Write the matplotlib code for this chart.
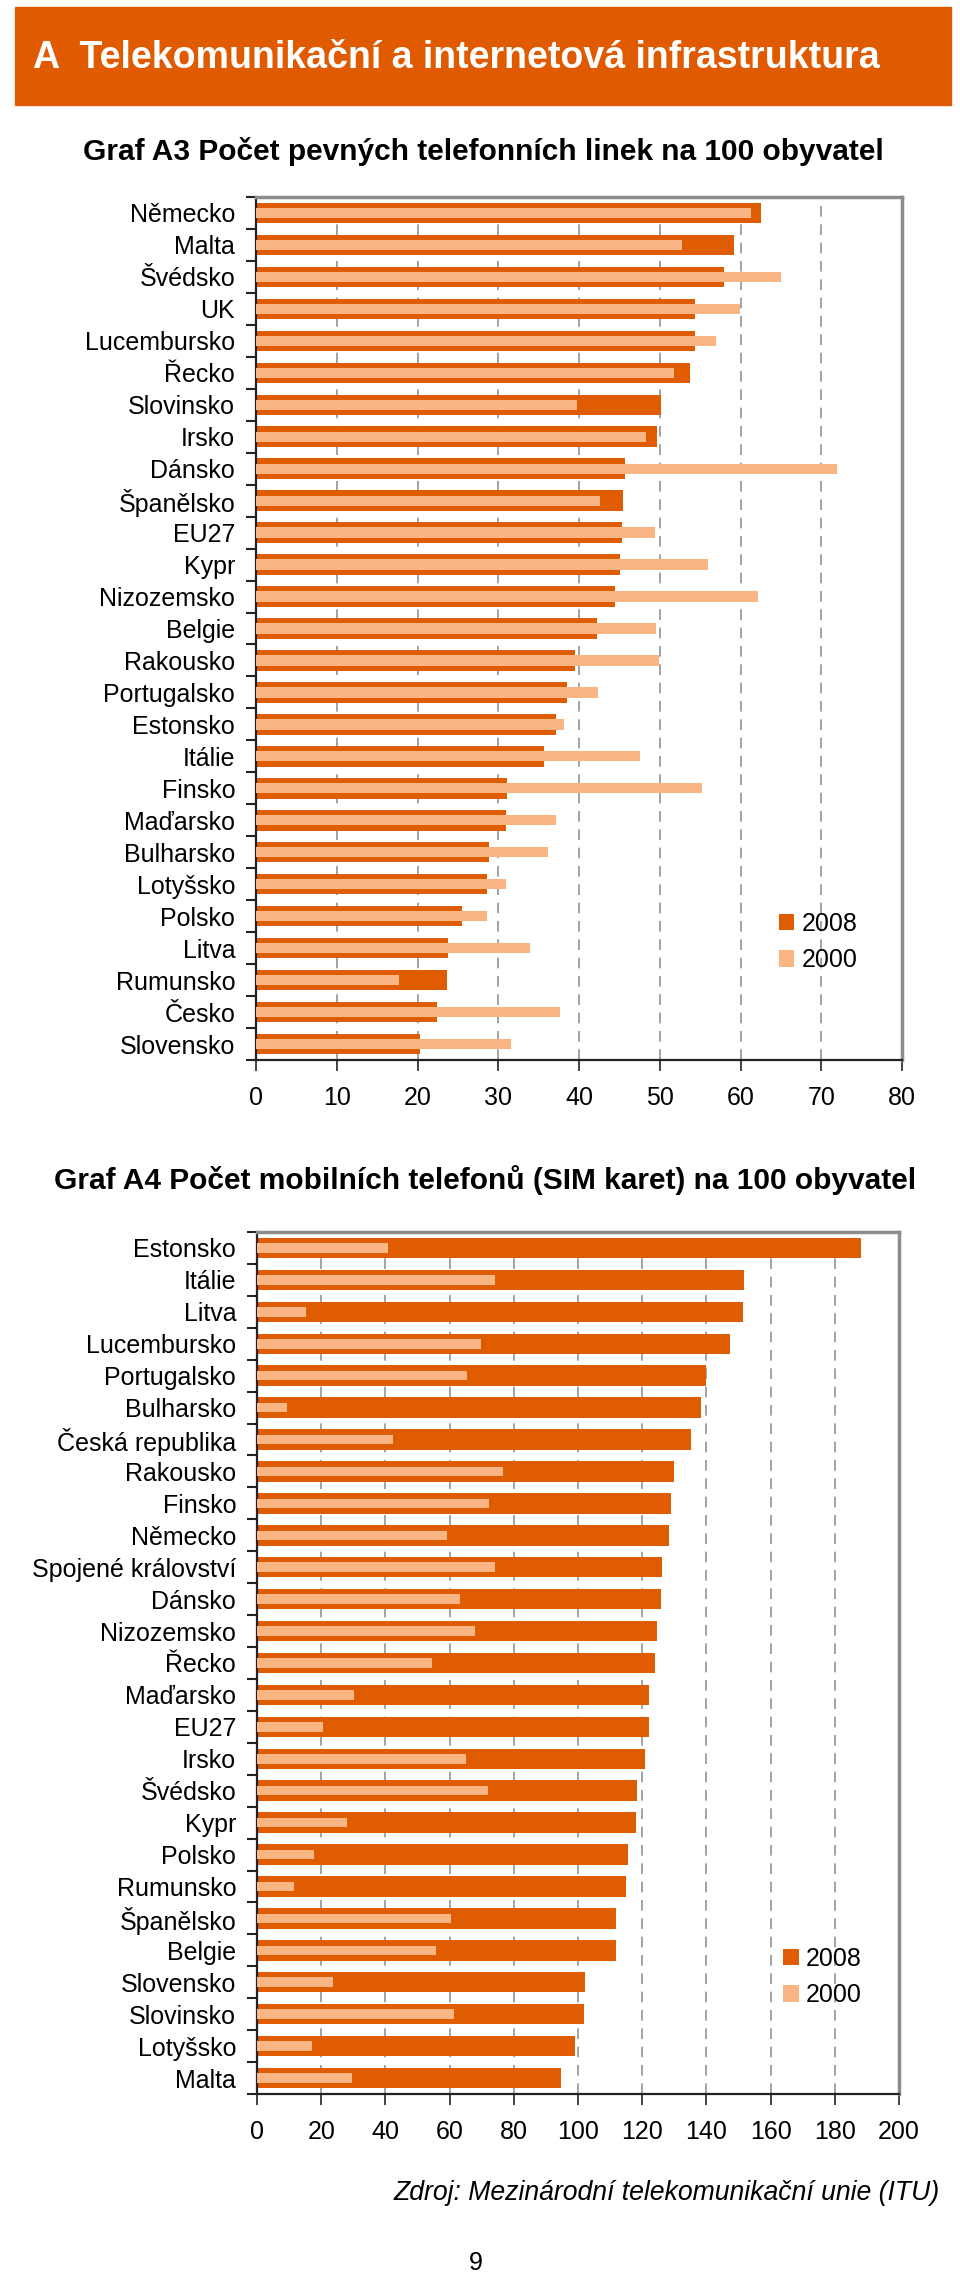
import matplotlib
matplotlib.use("Agg")
import matplotlib.pyplot as plt
from matplotlib.patches import Rectangle, Patch
import numpy as np

plt.rcParams['font.family'] = ['Liberation Sans', 'DejaVu Sans']

# ---------------- data ----------------
cats_fixed = ["Německo", "Malta", "Švédsko", "UK", "Lucembursko", "Řecko", "Slovinsko",
              "Irsko", "Dánsko", "Španělsko", "EU27", "Kypr", "Nizozemsko", "Belgie",
              "Rakousko", "Portugalsko", "Estonsko", "Itálie", "Finsko", "Maďarsko",
              "Bulharsko", "Lotyšsko", "Polsko", "Litva", "Rumunsko", "Česko", "Slovensko"]
fixed_2008 = [62.6, 59.2, 57.9, 54.4, 54.4, 53.7, 50.2, 49.7, 45.7, 45.5, 45.3, 45.1, 44.4,
              42.2, 39.5, 38.5, 37.2, 35.7, 31.1, 31.0, 28.9, 28.6, 25.5, 23.8, 23.6, 22.4, 20.3]
fixed_2000 = [61.3, 52.7, 65.0, 59.9, 57.0, 51.8, 39.7, 48.3, 71.9, 42.6, 49.4, 56.0, 62.2,
              49.5, 49.9, 42.3, 38.2, 47.6, 55.2, 37.2, 36.1, 31.0, 28.6, 33.9, 17.7, 37.7, 31.6]

cats_mobile = ["Estonsko", "Itálie", "Litva", "Lucembursko", "Portugalsko", "Bulharsko",
               "Česká republika", "Rakousko", "Finsko", "Německo", "Spojené království",
               "Dánsko", "Nizozemsko", "Řecko", "Maďarsko", "EU27", "Irsko", "Švédsko",
               "Kypr", "Polsko", "Rumunsko", "Španělsko", "Belgie", "Slovensko",
               "Slovinsko", "Lotyšsko", "Malta"]
mobile_2008 = [188.1, 151.8, 151.5, 147.2, 139.9, 138.3, 135.2, 129.8, 128.9, 128.2, 126.3,
               125.8, 124.7, 123.9, 122.2, 122.2, 120.9, 118.5, 118.2, 115.5, 114.9, 111.7,
               111.7, 102.3, 102.0, 99.0, 94.7]
mobile_2000 = [40.8, 74.2, 15.2, 69.7, 65.4, 9.3, 42.3, 76.7, 72.4, 59.1, 74.0, 63.2, 68.0,
               54.4, 30.2, 20.7, 65.1, 72.1, 28.0, 17.7, 11.6, 60.5, 55.7, 23.6, 61.4, 17.0, 29.6]

series_labels = ["2008", "2000"]
x1_ticks = list(range(0, 81, 10))
x2_ticks = list(range(0, 201, 20))

banner_text = "A  Telekomunikační a internetová infrastruktura"
title1 = "Graf A3 Počet pevných telefonních linek na 100 obyvatel"
title2 = "Graf A4 Počet mobilních telefonů (SIM karet) na 100 obyvatel"
source = "Zdroj: Mezinárodní telekomunikační unie (ITU)"
page_no = "9"

# ---------------- style ----------------
DARK = "#E05C00"
LIGHT = "#FAB584"
BANNER = "#E05A00"
FRAME = "#8C8C8C"
GRID = "#8A8A8A"
FS = 18

W, H = 960, 2278
fig = plt.figure(figsize=(W / 100, H / 100), dpi=100)


def fx(px):
    return px / W


def fy(py):
    return 1 - py / H


# banner
fig.patches.append(Rectangle((fx(15), fy(105)), fx(951) - fx(15), fy(7) - fy(105),
                             transform=fig.transFigure, color=BANNER, zorder=0))
fig.text(fx(33), fy(58), banner_text, ha="left", va="center", color="white",
         fontsize=27, fontweight="bold")

fig.text(fx(483), fy(152), title1, ha="center", va="center", fontsize=21.5, fontweight="bold")
fig.text(fx(485), fy(1180), title2, ha="center", va="center", fontsize=21.5, fontweight="bold")


def draw(rect, cats, v08, v00, xmax, xticks, dark_h, light_h, leg_xy):
    l, t, r, b = rect
    ax = fig.add_axes([fx(l), fy(b), fx(r) - fx(l), fy(t) - fy(b)])
    n = len(cats)
    y = np.arange(n)
    ax.barh(y, v08, height=dark_h, color=DARK, zorder=2, label=series_labels[0])
    ax.barh(y, v00, height=light_h, color=LIGHT, zorder=3, label=series_labels[1])
    ax.set_xlim(0, xmax)
    ax.set_ylim(n - 0.5, -0.5)
    ax.set_xticks(xticks)
    ax.set_xticklabels([str(v) for v in xticks])
    ax.set_yticks(y)
    ax.set_yticklabels(cats)
    ax.set_yticks(np.arange(n + 1) - 0.5, minor=True)
    ax.tick_params(axis="y", which="major", length=0, pad=15, labelsize=FS)
    ax.tick_params(axis="y", which="minor", length=7, width=1.5, direction="out", color="#222222")
    ax.tick_params(axis="x", which="major", length=8, width=1.2, direction="out",
                   color="#222222", pad=11, labelsize=FS)
    for v in xticks[1:-1]:
        ax.axvline(v, color=GRID, lw=1.1, linestyle=(0, (7, 5)), zorder=1)
    for s in ("top", "right"):
        ax.spines[s].set_color(FRAME)
        ax.spines[s].set_linewidth(2.5)
    for s in ("left", "bottom"):
        ax.spines[s].set_color("#222222")
        ax.spines[s].set_linewidth(1.6)
    handles = [Patch(facecolor=DARK, edgecolor="none"), Patch(facecolor=LIGHT, edgecolor="none")]
    ax.legend(handles, series_labels, loc="center left", bbox_to_anchor=leg_xy,
              frameon=False, fontsize=FS, handlelength=0.62, handleheight=0.65,
              handletextpad=0.3, labelspacing=0.5, borderpad=0, borderaxespad=0)
    return ax


draw((256, 197, 902, 1060), cats_fixed, fixed_2008, fixed_2000, 80, x1_ticks, 0.64, 0.32,
     ((779 - 256) / 646, (1060 - 942) / 863))
draw((257, 1232, 899, 2094), cats_mobile, mobile_2008, mobile_2000, 200, x2_ticks, 0.64, 0.30,
     ((783 - 257) / 642, (2094 - 1977) / 862))

fig.text(fx(940), fy(2193), source, ha="right", va="center", fontsize=19.2, style="italic")
fig.text(fx(476), fy(2263), page_no, ha="center", va="center", fontsize=FS)

fig.savefig("out.png", dpi=100, facecolor="white")
